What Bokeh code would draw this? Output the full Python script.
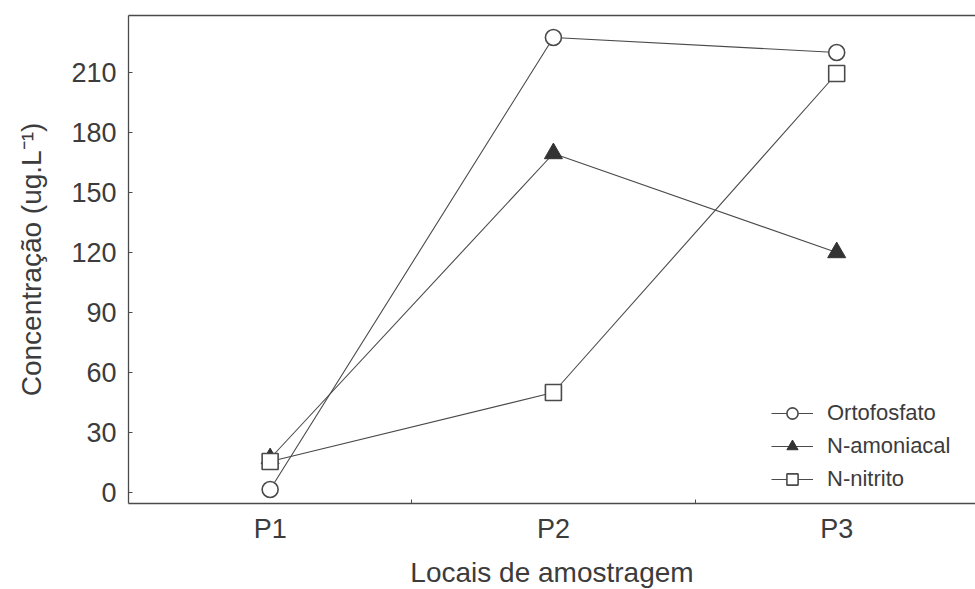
from bokeh.plotting import figure
from bokeh.models import FixedTicker, LinearAxis, Range1d, Legend
from bokeh.embed import file_html
from bokeh.resources import INLINE

# Data
sites = ["P1", "P2", "P3"]
site_pos = [1, 2, 3]
ortofosfato = [1.5, 227.5, 220]
n_amoniacal = [17, 169.5, 120]
n_nitrito = [15.5, 50, 209.5]
y_ticks = [0, 30, 60, 90, 120, 150, 180, 210]

FONT = "Liberation Sans"
TXT = "#3c3c3c"
LINE = "#4a4a4a"

p = figure(frame_width=847, frame_height=488, output_backend="svg",
           toolbar_location=None, x_range=Range1d(0.5, 3.49),
           y_range=Range1d(-5.5, 238.5),
           min_border_left=128, min_border_right=0, min_border_top=15,
           min_border_bottom=60)
p.outline_line_color = None
p.grid.visible = False
p.background_fill_color = "white"
p.border_fill_color = "white"

# x axis
xa = p.xaxis[0]
xa.ticker = FixedTicker(ticks=site_pos, minor_ticks=[1.5, 2.5])
xa.major_label_overrides = {k: v for k, v in zip(site_pos, sites)}
xa.major_tick_in = 0
xa.major_tick_out = 0
xa.minor_tick_in = 4
xa.minor_tick_out = 0
xa.axis_label = "Locais de amostragem"

# y axis
ya = p.yaxis[0]
ya.ticker = FixedTicker(ticks=y_ticks, minor_ticks=[])
ya.major_tick_in = 4
ya.major_tick_out = 0
ya.minor_tick_in = 0
ya.minor_tick_out = 0
ya.axis_label = "Concentração (ug.L⁻¹)"

for ax in (xa, ya):
    ax.axis_line_color = LINE
    ax.axis_line_width = 1.3
    ax.major_tick_line_color = LINE
    ax.minor_tick_line_color = LINE
    ax.major_label_text_font = FONT
    ax.major_label_text_font_size = "27px"
    ax.major_label_text_color = TXT
    ax.axis_label_text_font = FONT
    ax.axis_label_text_font_size = "28px"
    ax.axis_label_text_font_style = "normal"
    ax.axis_label_text_color = TXT
xa.major_label_standoff = 10
xa.axis_label_standoff = 10
ya.major_label_standoff = 12
ya.axis_label_standoff = 21

# top border line
top = LinearAxis(ticker=FixedTicker(ticks=[]), major_label_text_font_size="0px",
                 axis_line_color=LINE, axis_line_width=1.3,
                 major_tick_line_color=None, minor_tick_line_color=None)
p.add_layout(top, "above")

# series
l1 = p.line(site_pos, ortofosfato, line_color=LINE, line_width=1.1)
s1 = p.scatter(site_pos, ortofosfato, marker="circle", size=16,
               fill_color="white", line_color=LINE, line_width=1.6)
l2 = p.line(site_pos, n_amoniacal, line_color=LINE, line_width=1.1)
s2 = p.scatter(site_pos, n_amoniacal, marker="triangle", size=18,
               fill_color="#333333", line_color="#333333", line_width=1)
l3 = p.line(site_pos, n_nitrito, line_color=LINE, line_width=1.1)
s3 = p.scatter(site_pos, n_nitrito, marker="square", size=16,
               fill_color="white", line_color=LINE, line_width=1.6)

legend = Legend(items=[("Ortofosfato", [l1, s1]),
                       ("N-amoniacal", [l2, s2]),
                       ("N-nitrito", [l3, s3])],
                location=(643, 10))
legend.border_line_color = None
legend.background_fill_alpha = 0
legend.label_text_font = FONT
legend.label_text_font_size = "22px"
legend.label_text_color = TXT
legend.glyph_width = 42
legend.glyph_height = 28
legend.spacing = 5
legend.padding = 4
legend.margin = 0
legend.label_standoff = 14
p.add_layout(legend, "center")

open("out.html", "w").write(file_html(p, INLINE))
